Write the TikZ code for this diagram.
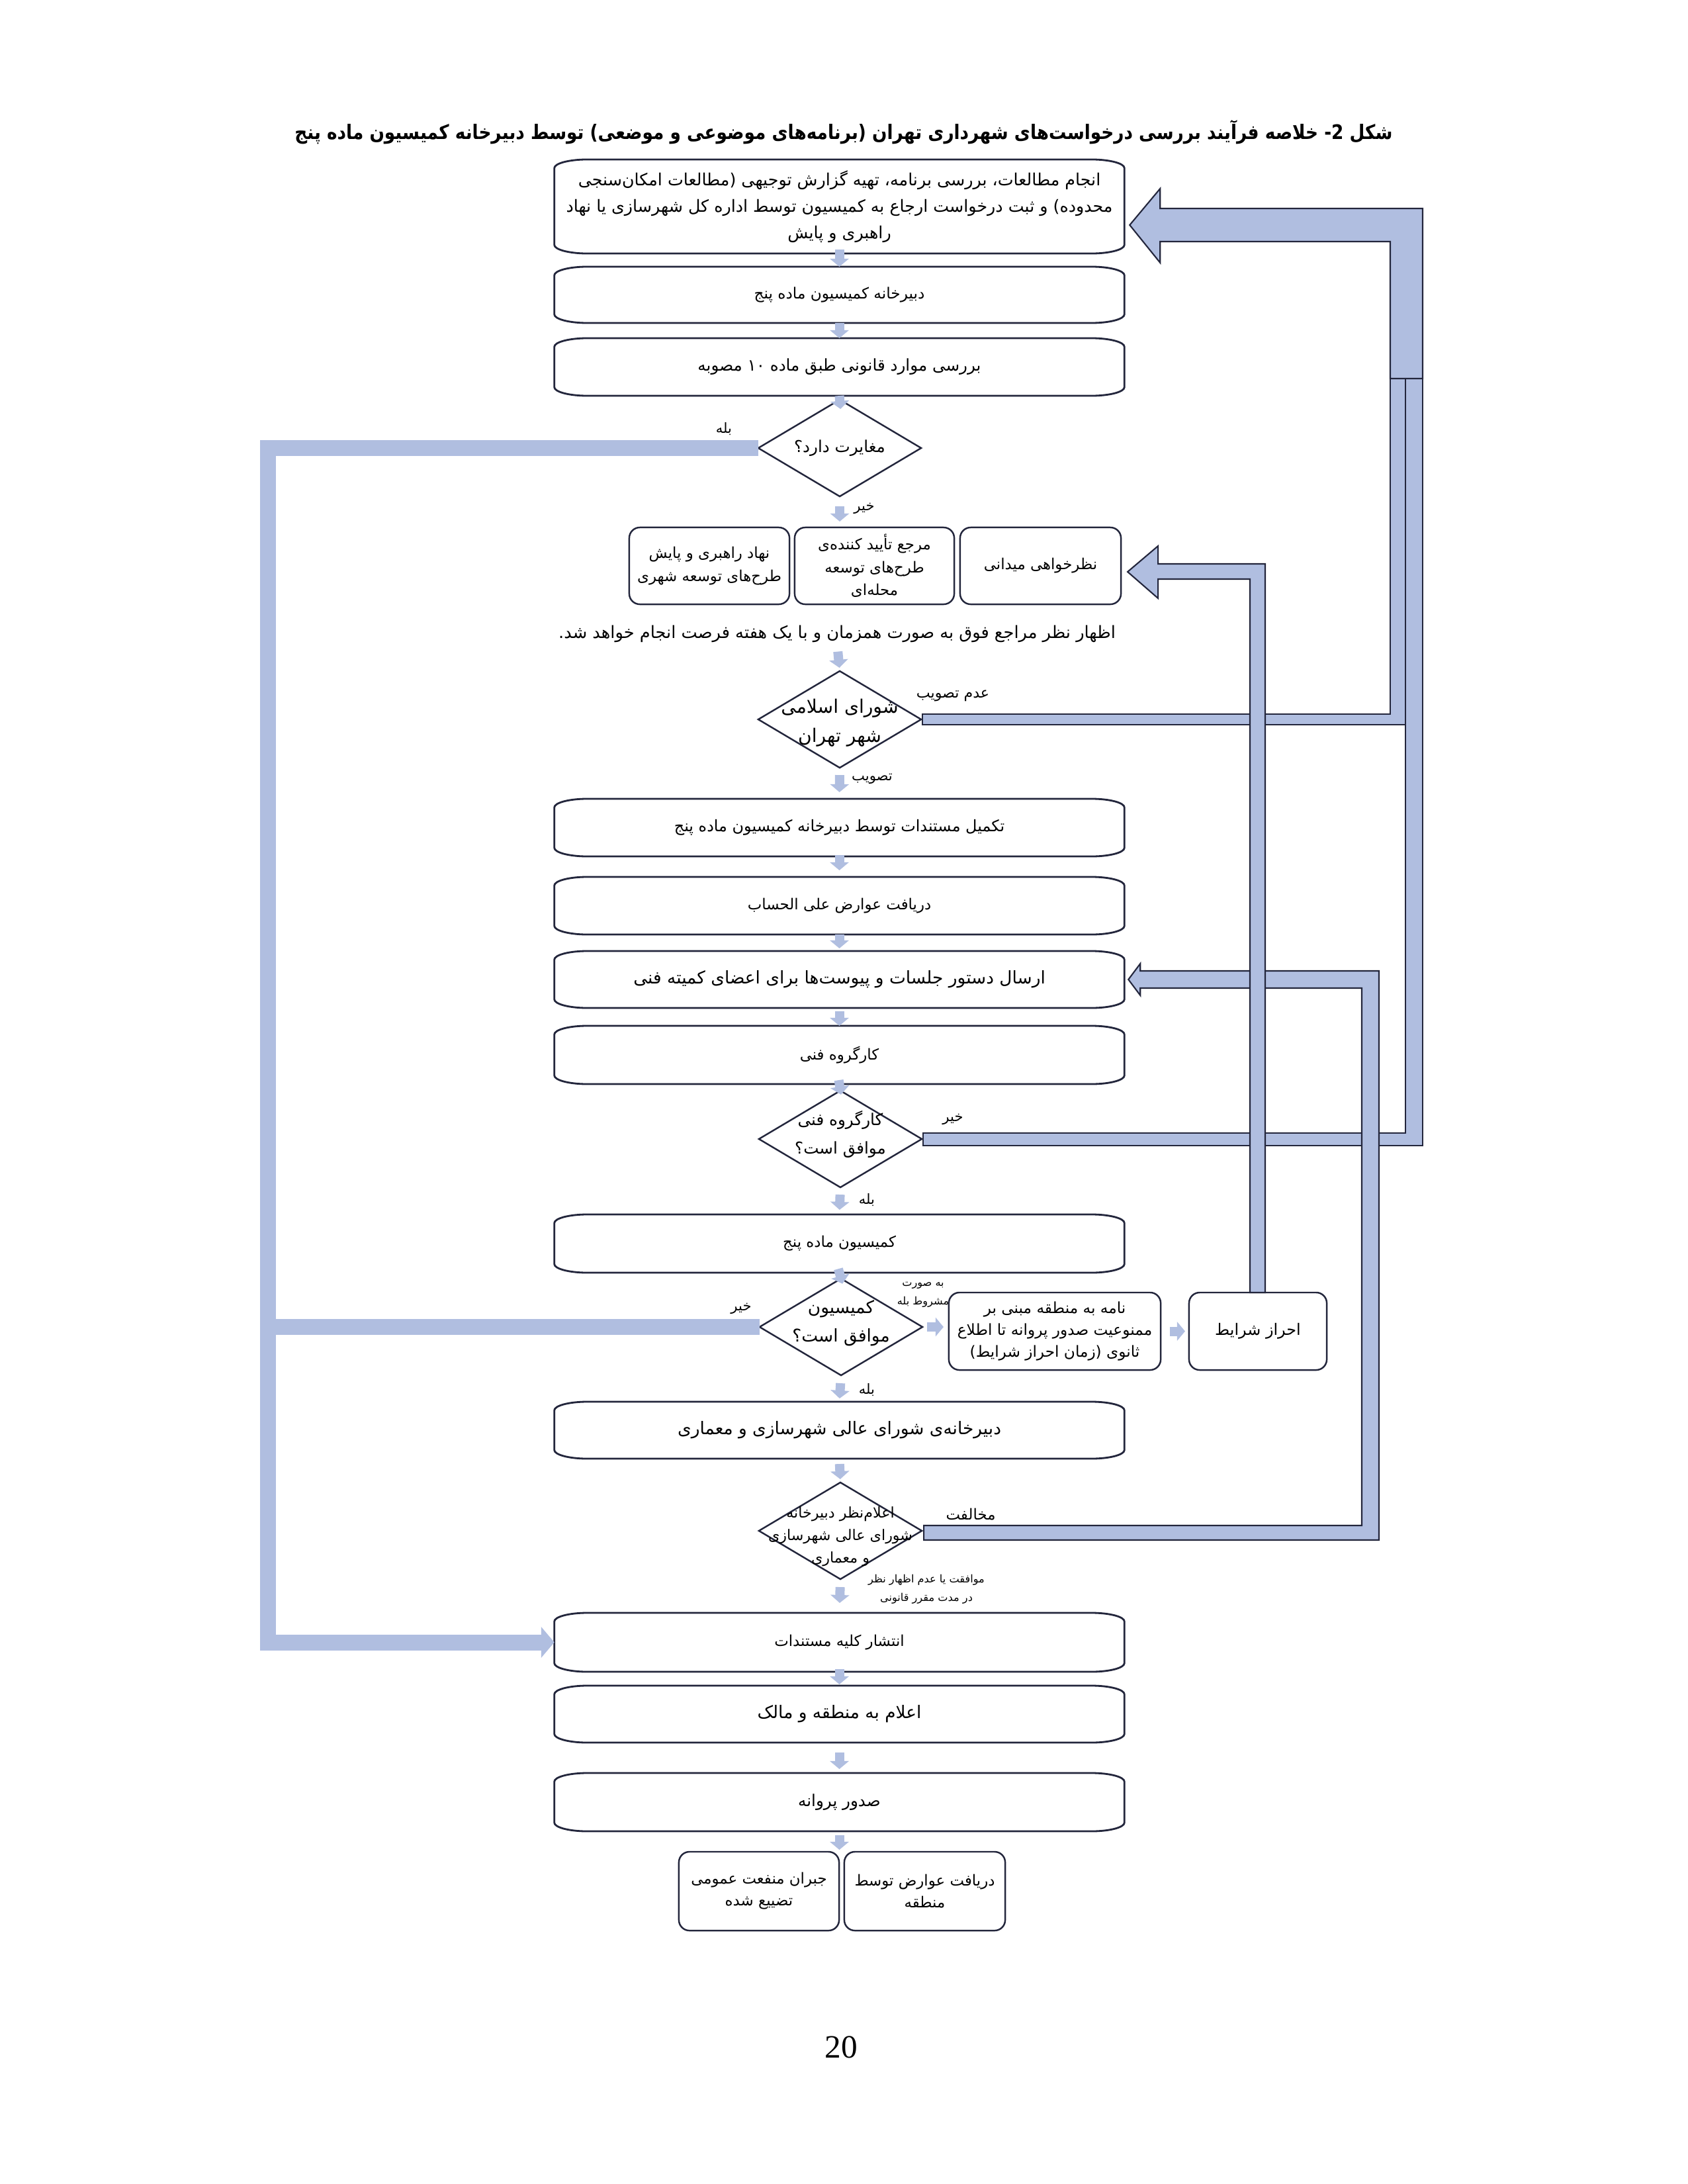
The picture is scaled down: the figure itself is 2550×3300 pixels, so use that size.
\documentclass[tikz,border=0pt]{standalone}
\usepackage{fontspec}
\usetikzlibrary{arrows.meta,calc,shapes.geometric}
\TeXXeTstate=1
\newfontfamily\fa[Script=Arabic]{DejaVu Sans}
\newfontfamily\fat[Script=Arabic, FakeStretch=0.87]{DejaVu Sans}
\newfontfamily\tnr{Liberation Serif}
\newcommand\rtl[1]{\beginR #1\endR}
\newcommand\fsz[2]{\fontsize{#1}{#2}\selectfont}
\newcommand\zw{^^^^200c}
\definecolor{lblue}{RGB}{176,190,224}
\definecolor{dk}{RGB}{35,38,60}
\tikzset{
 ebx/.style={inner sep=0pt, outer sep=0pt, align=center, text=black},
 eline/.style={draw=dk, line width=0.8pt},
 rbx/.style={draw=dk, line width=0.7pt, rounded corners=0.16cm, inner sep=0pt, outer sep=0pt, align=center},
 dia/.style={diamond, draw=dk, line width=0.7pt, inner sep=0pt, outer sep=0pt, minimum width=2.46cm, minimum height=1.46cm},
 dtx/.style={inner sep=0pt, align=center},
 sarr/.style={draw=lblue, line width=0.14cm, -{Triangle[width=0.28cm,length=0.12cm]}},
 lbar/.style={draw=lblue, line width=0.24cm, line join=miter},
 bconn/.style={fill=lblue, draw=dk, line width=0.6pt, line join=miter},
 lab/.style={inner sep=0pt, align=center},
}
\newcommand\ebox[1]{%
\draw[eline]
 ($(#1.north west)+(0,13)$) .. controls ($(#1.north west)+(0,6)$) and ($(#1.north west)+(22,0)$) .. ($(#1.north west)+(50,0)$)
 -- ($(#1.north east)+(-50,0)$) .. controls ($(#1.north east)+(-22,0)$) and ($(#1.north east)+(0,6)$) .. ($(#1.north east)+(0,13)$)
 -- ($(#1.south east)+(0,-13)$) .. controls ($(#1.south east)+(0,-6)$) and ($(#1.south east)+(-22,0)$) .. ($(#1.south east)+(-50,0)$)
 -- ($(#1.south west)+(50,0)$) .. controls ($(#1.south west)+(22,0)$) and ($(#1.south west)+(0,-6)$) .. ($(#1.south west)+(0,-13)$) -- cycle;}
\begin{document}
\begin{tikzpicture}[x=0.01cm, y=-0.01cm]
\fill[white] (0,0) rectangle (2550,3300);
\useasboundingbox (0,0) rectangle (2550,3300);

% title
\node[font=\fat\bfseries\fsz{8.6}{11}] (title) at (1275,200) {\rtl{شکل 2\kern0pt- خلاصه فرآیند بررسی درخواست\zw های شهرداری تهران (برنامه\zw های موضوعی و موضعی) توسط دبیرخانه کمیسیون ماده پنج}};

% main boxes
\node[ebx, minimum width=8.61cm, minimum height=1.42cm, font=\fa\fsz{7.2}{11.4}] (b1) at (1268.5,312) {\rtl{انجام مطالعات، بررسی برنامه، تهیه گزارش توجیهی (مطالعات امکان\zw سنجی}\\\rtl{محدوده) و ثبت درخواست ارجاع به کمیسیون توسط اداره کل شهرسازی یا نهاد}\\\rtl{راهبری و پایش}};
\ebox{b1}
\node[ebx, minimum width=8.61cm, minimum height=0.85cm, font=\fa\fsz{6.6}{8}] (b2) at (1268.5,445.5) {\rtl{دبیرخانه کمیسیون ماده پنج}};
\ebox{b2}
\node[ebx, minimum width=8.61cm, minimum height=0.87cm, font=\fa\fsz{7}{8}] (b3) at (1268.5,554.5) {\rtl{بررسی موارد قانونی طبق ماده ۱۰ مصوبه}};
\ebox{b3}

\node[dia] (d1) at (1269,677) {};
\node[dtx, font=\fa\fsz{7}{9}] (d1t) at (1269,677) {\rtl{مغایرت دارد؟}};

% three reviewers
\node[rbx, minimum width=2.42cm, minimum height=1.16cm, font=\fa\fsz{6.5}{9.8}] (ref1) at (1072,855) {\rtl{نهاد راهبری و پایش}\\\rtl{طرح\zw های توسعه شهری}};
\node[rbx, minimum width=2.41cm, minimum height=1.16cm, font=\fa\fsz{6.5}{9.8}] (ref2) at (1321.5,855) {\rtl{مرجع تأیید کننده\zw ی}\\\rtl{طرح\zw های توسعه}\\\rtl{محله\zw ای}};
\node[rbx, minimum width=2.43cm, minimum height=1.16cm, font=\fa\fsz{6.5}{9.8}] (field) at (1572.5,855) {\rtl{نظرخواهی میدانی}};

\node[lab, font=\fa\fsz{7.3}{9}] (t1) at (1265,958) {\rtl{اظهار نظر مراجع فوق به صورت همزمان و با یک هفته فرصت انجام خواهد شد.}};

\node[dia] (d2) at (1269,1087) {};
\node[dtx, font=\fa\fsz{8}{12.5}] (d2t) at (1269,1092) {\rtl{شورای اسلامی}\\\rtl{شهر تهران}};

\node[ebx, minimum width=8.61cm, minimum height=0.87cm, font=\fa\fsz{6.8}{8}] (doc) at (1268.5,1250.5) {\rtl{تکمیل مستندات توسط دبیرخانه کمیسیون ماده پنج}};
\ebox{doc}
\node[ebx, minimum width=8.61cm, minimum height=0.87cm, font=\fa\fsz{6.5}{8}] (fee) at (1268.5,1368.5) {\rtl{دریافت عوارض علی الحساب}};
\ebox{fee}
\node[ebx, minimum width=8.61cm, minimum height=0.86cm, font=\fa\fsz{7.5}{9}] (send) at (1268.5,1480) {\rtl{ارسال دستور جلسات و پیوست\zw ها برای اعضای کمیته فنی}};
\ebox{send}
\node[ebx, minimum width=8.61cm, minimum height=0.88cm, font=\fa\fsz{6.5}{8}] (wg) at (1268.5,1594) {\rtl{کارگروه فنی}};
\ebox{wg}

\node[dia] (d3) at (1270,1721) {};
\node[dtx, font=\fa\fsz{7}{12}] (d3t) at (1270,1714) {\rtl{کارگروه فنی}\\\rtl{موافق است؟}};

\node[ebx, minimum width=8.61cm, minimum height=0.88cm, font=\fa\fsz{6.5}{8}] (c5) at (1268.5,1879) {\rtl{کمیسیون ماده پنج}};
\ebox{c5}

\node[dia] (d4) at (1271,2005) {};
\node[dtx, font=\fa\fsz{7.5}{12.3}] (d4t) at (1271,1999) {\rtl{کمیسیون}\\\rtl{موافق است؟}};

\node[rbx, minimum width=3.2cm, minimum height=1.17cm, font=\fa\fsz{6.6}{9.4}] (letter) at (1594,2011.5) {\rtl{نامه به منطقه مبنی بر}\\\rtl{ممنوعیت صدور پروانه تا اطلاع}\\\rtl{ثانوی (زمان احراز شرایط)}};
\node[rbx, minimum width=2.08cm, minimum height=1.17cm, font=\fa\fsz{6.8}{8}] (cond) at (1901,2011.5) {\rtl{احراز شرایط}};

\node[ebx, minimum width=8.61cm, minimum height=0.86cm, font=\fa\fsz{7.5}{9}] (sec) at (1268.5,2161) {\rtl{دبیرخانه\zw ی شورای عالی شهرسازی و معماری}};
\ebox{sec}

\node[dia] (d5) at (1270,2313) {};
\node[dtx, font=\fa\fsz{6.3}{9.6}] (d5t) at (1270,2322) {\rtl{اعلام\zw نظر دبیرخانه}\\\rtl{شورای عالی شهرسازی}\\\rtl{و معماری}};

\node[ebx, minimum width=8.61cm, minimum height=0.89cm, font=\fa\fsz{6.5}{8}] (pub) at (1268.5,2481.5) {\rtl{انتشار کلیه مستندات}};
\ebox{pub}
\node[ebx, minimum width=8.61cm, minimum height=0.86cm, font=\fa\fsz{7.5}{9}] (notify) at (1268.5,2590) {\rtl{اعلام به منطقه و مالک}};
\ebox{notify}
\node[ebx, minimum width=8.61cm, minimum height=0.88cm, font=\fa\fsz{7}{9}] (permit) at (1268.5,2723) {\rtl{صدور پروانه}};
\ebox{permit}

\node[rbx, minimum width=2.42cm, minimum height=1.19cm, font=\fa\fsz{6.5}{9.4}] (comp) at (1147,2857.5) {\rtl{جبران منفعت عمومی}\\\rtl{تضییع شده}};
\node[rbx, minimum width=2.43cm, minimum height=1.19cm, font=\fa\fsz{6.5}{9.4}] (fee2) at (1397.5,2857.5) {\rtl{دریافت عوارض توسط}\\\rtl{منطقه}};

% labels
\node[lab, font=\fa\fsz{6}{7}] (l1) at (1094,648) {\rtl{بله}};
\node[lab, font=\fa\fsz{6}{7}] (l2) at (1306,768) {\rtl{خیر}};
\node[lab, font=\fa\fsz{6.3}{7}] (l3) at (1440,1051) {\rtl{عدم تصویب}};
\node[lab, font=\fa\fsz{6}{7}] (l4) at (1318,1177) {\rtl{تصویب}};
\node[lab, font=\fa\fsz{6}{7}] (l5) at (1440,1691) {\rtl{خیر}};
\node[lab, font=\fa\fsz{6}{7}] (l6) at (1310,1813) {\rtl{بله}};
\node[lab, font=\fa\fsz{6}{7}] (l7) at (1120,1977) {\rtl{خیر}};
\node[lab, font=\fa\fsz{4.6}{8}] (l8) at (1395,1956) {\rtl{به صورت}\\\rtl{مشروط بله}};
\node[lab, font=\fa\fsz{6}{7}] (l9) at (1310,2100) {\rtl{بله}};
\node[lab, font=\fa\fsz{6.5}{7}] (l10) at (1467,2288) {\rtl{مخالفت}};
\node[lab, font=\fa\fsz{4.6}{8}] (l11) at (1400,2401) {\rtl{موافقت یا عدم اظهار نظر}\\\rtl{در مدت مقرر قانونی}};

\node[font=\tnr\fsz{14}{16}] (pg) at (1271,3093) {20};

% left (yes / no) connector
\coordinate (Lx) at (405,0);
\draw[lbar] (d4.west) -- (Lx |- d4.west);
\draw[lbar, -{Triangle[width=0.46cm,length=0.2cm]}] (d1.west) -- (Lx |- d1.west) -- (Lx |- pub.west) -- (pub.west);

% right connectors
\coordinate (A1) at (2101,572);
\coordinate (A2) at (2124,572);
\coordinate (B2) at (2150,572);
\filldraw[bconn] ($(d2.east)+(2,-8)$) -- ($(A1 |- d2.east)+(0,-8)$) -- (A1) -- (A2) -- ($(A2 |- d2.east)+(0,8)$) -- ($(d2.east)+(2,8)$) -- cycle;
\filldraw[bconn] ($(d3.east)+(2,-9)$) -- ($(A2 |- d3.east)+(0,-9)$) -- (A2) -- (B2) -- ($(B2 |- d3.east)+(0,10)$) -- ($(d3.east)+(2,10)$) -- cycle;
\coordinate (Ctip) at ($(b1.east)+(8,28)$);
\filldraw[bconn] (A1) -- ($(A1 |- Ctip)+(0,25)$) -- ($(Ctip)+(46,25)$) -- ($(Ctip)+(46,57)$) -- (Ctip) -- ($(Ctip)+(46,-55)$) -- ($(Ctip)+(46,-25)$) -- ($(B2 |- Ctip)+(0,-25)$) -- (B2) -- cycle;

\coordinate (Dx1) at (2058,0);
\coordinate (Dx2) at (2084,0);
\coordinate (Dtip) at ($(send.east)+(6,0)$);
\filldraw[bconn] ($(d5.east)+(3,-8)$) -- ($(Dx1 |- d5.east)+(0,-8)$) -- ($(Dx1 |- Dtip)+(0,13)$) -- ($(Dtip)+(18,13)$) -- ($(Dtip)+(18,24)$) -- (Dtip) -- ($(Dtip)+(18,-24)$) -- ($(Dtip)+(18,-13)$) -- ($(Dx2 |- Dtip)+(0,-13)$) -- ($(Dx2 |- d5.east)+(0,14)$) -- ($(d5.east)+(3,14)$) -- cycle;

\coordinate (Etip) at ($(field.east)+(10,9)$);
\filldraw[bconn] ($(cond.north)+(-12,0)$) -- ($(cond.north |- Etip)+(-12,11)$) -- ($(Etip)+(46,11)$) -- ($(Etip)+(46,40)$) -- (Etip) -- ($(Etip)+(46,-39)$) -- ($(Etip)+(46,-12)$) -- ($(cond.north |- Etip)+(11,-12)$) -- ($(cond.north)+(11,0)$) -- cycle;

% small arrows
\draw[sarr, shorten <=-0.06cm] (b1.south) -- (b2.north);
\draw[sarr] (b2.south) -- (b3.north);
\draw[sarr, shorten >=-0.14cm] (b3.south) -- (d1.north);
\draw[sarr, shorten <=0.15cm, shorten >=0.09cm] (d1.south) -- (d1.south |- ref2.north);
\draw[sarr, shorten <=0.13cm, shorten >=0.05cm] (t1.south) -- (d2.north);
\draw[sarr, shorten <=0.11cm, shorten >=0.10cm] (d2.south) -- (doc.north);
\draw[sarr, shorten <=-0.02cm, shorten >=0.10cm] (doc.south) -- (fee.north);
\draw[sarr, shorten >=0.04cm] (fee.south) -- (send.north);
\draw[sarr, shorten <=0.05cm] (send.south) -- (wg.north);
\draw[sarr, shorten <=-0.06cm, shorten >=-0.06cm] (wg.south) -- (d3.north);
\draw[sarr, shorten <=0.11cm, shorten >=0.07cm] (d3.south) -- (c5.north);
\draw[sarr, shorten <=-0.06cm, shorten >=-0.08cm] (c5.south) -- (d4.north);
\draw[sarr, shorten <=0.12cm, shorten >=0.05cm] (d4.south) -- (sec.north);
\draw[sarr, shorten <=0.08cm, shorten >=0.05cm] (sec.south) -- (d5.north);
\draw[sarr, shorten <=0.12cm, shorten >=0.15cm] (d5.south) -- (pub.north);
\draw[sarr, shorten <=-0.04cm, shorten >=0.02cm] (pub.south) -- (notify.north);
\draw[sarr, shorten <=0.15cm, shorten >=0.06cm] (notify.south) -- (permit.north);
\draw[sarr, shorten <=0.06cm, shorten >=0.03cm] (permit.south) -- (permit.south |- fee2.north);
\draw[sarr, shorten <=0.07cm, shorten >=0.08cm] (d4.east) -- (d4.east -| letter.west);
\draw[sarr, shorten <=0.14cm, shorten >=0.06cm] (letter.east) -- (cond.west);
\end{tikzpicture}
\end{document}
